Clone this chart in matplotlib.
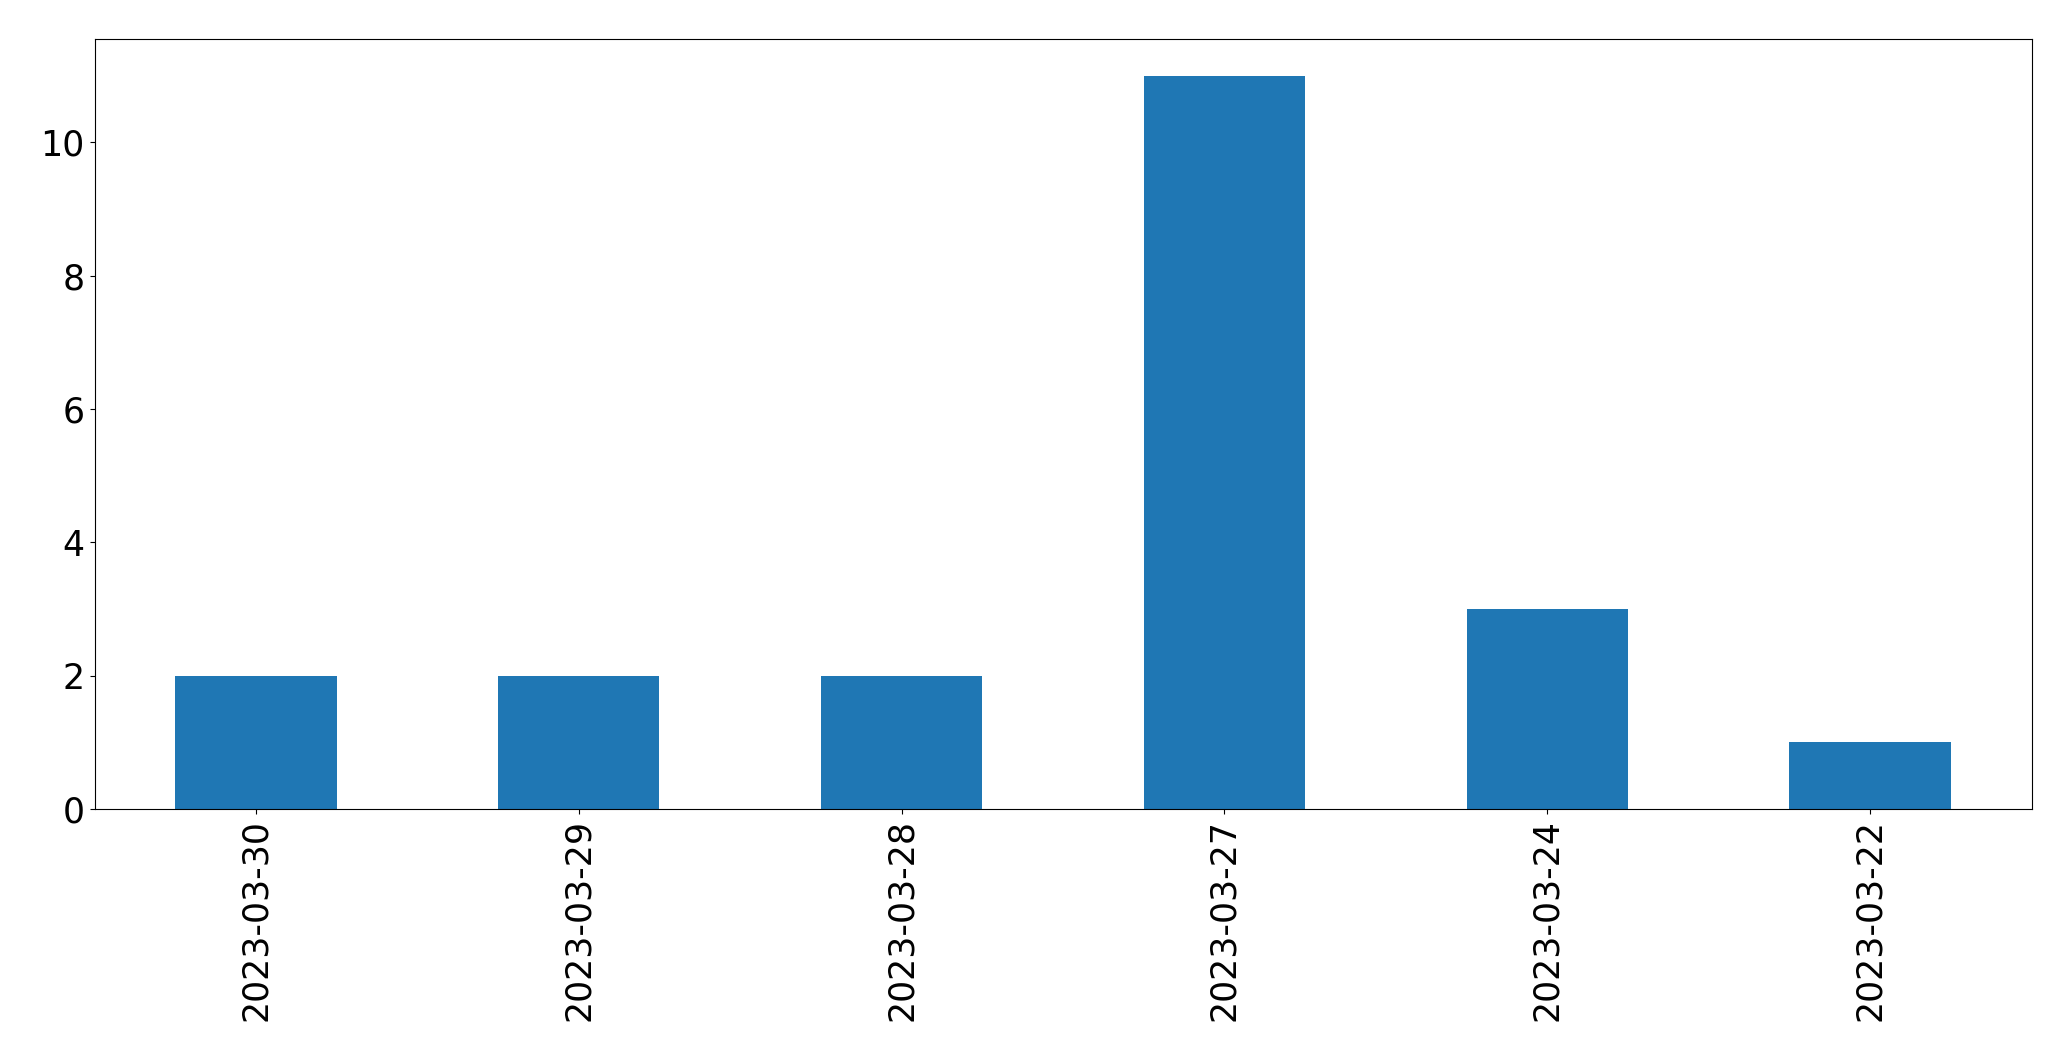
import pandas as pd
from matplotlib import pyplot as plt

dates = ["2023-03-30", "2023-03-29", "2023-03-28", "2023-03-27", "2023-03-24", "2023-03-22"]
counts = [2, 2, 2, 11, 3, 1]

s = pd.Series(counts, index=dates)

fig, ax = plt.subplots(figsize=(20.71, 10.61), dpi=100)
fig.subplots_adjust(left=94.5 / 2071, right=2031.5 / 2071, bottom=1 - 809 / 1061, top=1 - 39 / 1061)
s.plot(kind="bar", ax=ax, color="#1f77b4")
ax.tick_params(axis="both", labelsize=25)
plt.savefig("out.png")
